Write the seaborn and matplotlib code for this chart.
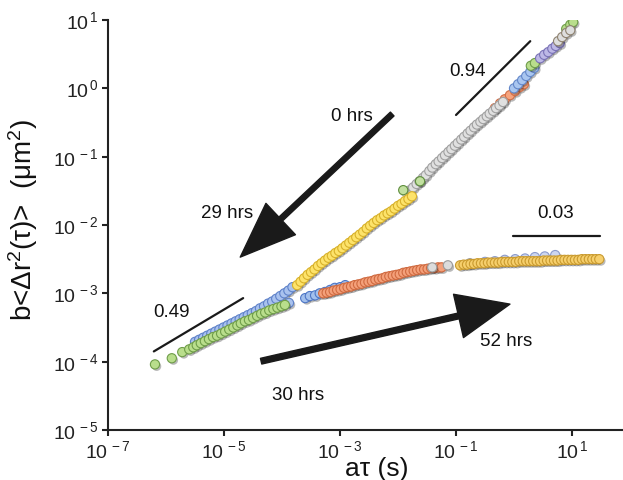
import numpy as np
import pandas as pd
import matplotlib
matplotlib.use("Agg")
import matplotlib.pyplot as plt
import matplotlib.patheffects as pe
from matplotlib.ticker import FixedLocator, NullLocator
import seaborn as sns

# ---------------- data (log10 of a*tau [s], log10 of b*MSD [um^2]) ----------------
# upper branch (0 -> 29 hrs)
green_low_x = [-6.19, -5.90, -5.72, -5.60, -5.53, -5.47, -5.40, -5.33, -5.26, -5.19,
               -5.12, -5.05, -4.98, -4.91, -4.84, -4.77, -4.71, -4.64, -4.57, -4.50,
               -4.43, -4.36, -4.29, -4.22, -4.15, -4.08, -4.01, -3.95]
green_low_y = [-4.04, -3.95, -3.86, -3.82, -3.79, -3.76, -3.73, -3.70, -3.67, -3.64,
               -3.62, -3.59, -3.56, -3.53, -3.50, -3.47, -3.44, -3.41, -3.39, -3.36,
               -3.33, -3.30, -3.28, -3.25, -3.23, -3.21, -3.19, -3.17]

blue_low_x = [-5.50, -5.43, -5.36, -5.29, -5.22, -5.15, -5.08, -5.01, -4.94, -4.87,
              -4.80, -4.73, -4.66, -4.59, -4.52, -4.45, -4.38, -4.31, -4.24, -4.17,
              -4.10, -4.03, -3.96, -3.89, -3.82, -3.88]
blue_low_y = [-3.71, -3.68, -3.65, -3.62, -3.59, -3.56, -3.53, -3.50, -3.47, -3.44,
              -3.41, -3.38, -3.35, -3.32, -3.29, -3.26, -3.22, -3.19, -3.15, -3.12,
              -3.08, -3.04, -3.00, -2.96, -2.91, -3.14]

yellow_x = [-3.74, -3.68, -3.62, -3.56, -3.50, -3.44, -3.38, -3.32, -3.26, -3.20,
            -3.14, -3.08, -3.02, -2.96, -2.90, -2.84, -2.78, -2.72, -2.66, -2.60,
            -2.54, -2.48, -2.42, -2.36, -2.30, -2.24, -2.18, -2.12, -2.06, -2.00,
            -1.94, -1.88, -1.82, -1.76]
yellow_y = [-2.88, -2.83, -2.78, -2.73, -2.69, -2.65, -2.60, -2.56, -2.52, -2.48,
            -2.45, -2.41, -2.38, -2.34, -2.30, -2.26, -2.22, -2.18, -2.14, -2.10,
            -2.05, -2.01, -1.97, -1.93, -1.90, -1.86, -1.83, -1.80, -1.76, -1.72,
            -1.69, -1.65, -1.62, -1.58]

green_mid_x = [-1.91, -1.62]
green_mid_y = [-1.49, -1.36]

gray_x = [-1.79, -1.74, -1.68, -1.63, -1.57, -1.52, -1.46, -1.41, -1.35, -1.30,
          -1.24, -1.19, -1.13, -1.08, -1.02, -0.97, -0.91, -0.86, -0.80, -0.75,
          -0.69, -0.64, -0.58, -0.53, -0.47, -0.42, -0.36, -0.31, -0.25, -0.19]
gray_y = [-1.49, -1.45, -1.40, -1.36, -1.31, -1.27, -1.21, -1.16, -1.11, -1.07,
          -1.02, -0.98, -0.93, -0.89, -0.84, -0.80, -0.75, -0.71, -0.66, -0.62,
          -0.57, -0.53, -0.49, -0.45, -0.41, -0.37, -0.33, -0.29, -0.25, -0.20]

orange_high_x = [-0.33, -0.24, -0.16, -0.07, 0.02, 0.10, 0.17]
orange_high_y = [-0.29, -0.22, -0.16, -0.10, -0.04, 0.02, 0.06]

blue_high_x = [0.00, 0.07, 0.14, 0.21, 0.28, 0.35]
blue_high_y = [0.00, 0.06, 0.12, 0.18, 0.24, 0.30]

purple_x = [0.45, 0.52, 0.59, 0.66, 0.72, 0.79]
purple_y = [0.44, 0.49, 0.53, 0.58, 0.62, 0.66]

graytop_x = [0.76, 0.83, 0.90, 0.97]
graytop_y = [0.69, 0.75, 0.81, 0.85]

green_high_x = [0.29, 0.36, 0.90, 0.97, 1.02]
green_high_y = [0.33, 0.37, 0.87, 0.93, 0.97]

# lower branch (30 -> 52 hrs)
blue_lo2_x = [-3.60, -3.52, -3.43, -3.35, -3.26, -3.17, -3.09, -3.00, -2.91]
blue_lo2_y = [-3.07, -3.04, -3.03, -3.00, -2.98, -2.95, -2.92, -2.91, -2.88]

orange_lo_x = [-3.29, -3.23, -3.17, -3.11, -3.05, -2.99, -2.93, -2.87, -2.81, -2.75,
               -2.69, -2.63, -2.57, -2.51, -2.45, -2.39, -2.33, -2.27, -2.21, -2.15,
               -2.09, -2.03, -1.97, -1.91, -1.85, -1.79, -1.73, -1.67, -1.61, -1.55,
               -1.49, -1.43, -1.37, -1.31, -1.25]
orange_lo_y = [-3.00, -2.99, -2.98, -2.96, -2.95, -2.94, -2.92, -2.91, -2.90, -2.88,
               -2.87, -2.86, -2.84, -2.83, -2.82, -2.80, -2.79, -2.78, -2.76, -2.75,
               -2.74, -2.73, -2.72, -2.70, -2.69, -2.68, -2.67, -2.66, -2.65, -2.65,
               -2.64, -2.63, -2.63, -2.62, -2.62]

gray_lo_x = [-1.41, -1.14, -0.76]
gray_lo_y = [-2.62, -2.59, -2.56]

lblue_lo_x = [-0.50, -0.33, -0.16, 0.02, 0.19, 0.36, 0.53, 0.71]
lblue_lo_y = [-2.54, -2.53, -2.51, -2.50, -2.49, -2.47, -2.46, -2.44]

gold_x = [-0.93, -0.87, -0.81, -0.75, -0.69, -0.63, -0.57, -0.51, -0.45, -0.39,
          -0.33, -0.27, -0.21, -0.15, -0.09, -0.03, 0.03, 0.09, 0.15, 0.21,
          0.27, 0.33, 0.39, 0.45, 0.51, 0.57, 0.63, 0.69, 0.75, 0.81,
          0.87, 0.93, 0.99, 1.05, 1.11, 1.17, 1.23, 1.29, 1.35, 1.41, 1.47]
gold_y = [-2.59, -2.58, -2.58, -2.57, -2.57, -2.56, -2.56, -2.56, -2.55, -2.55,
          -2.55, -2.55, -2.54, -2.54, -2.54, -2.54, -2.54, -2.53, -2.53, -2.53,
          -2.53, -2.53, -2.53, -2.53, -2.52, -2.52, -2.52, -2.52, -2.52, -2.51,
          -2.51, -2.51, -2.51, -2.51, -2.51, -2.50, -2.50, -2.50, -2.50, -2.50, -2.50]

# slope guide lines (log10 endpoints) and labels
slope_labels = ["0.49", "0.94", "0.03"]
slope_x = [(-6.21, -4.67), (-1.00, 0.28), (-0.02, 1.48)]
slope_y = [(-3.85, -3.07), (-0.39, 0.69), (-2.16, -2.16)]
slope_text_pos = [(-5.90, -3.28), (-0.81, 0.24), (0.71, -1.83)]

# ---------------- style ----------------
sns.set_theme(style="ticks")
plt.rcParams["font.family"] = ["Liberation Sans", "DejaVu Sans"]
plt.rcParams["mathtext.fontset"] = "custom"
plt.rcParams["mathtext.rm"] = "Liberation Sans"
plt.rcParams["mathtext.it"] = "Liberation Sans:italic"
plt.rcParams["mathtext.bf"] = "Liberation Sans:bold"

fig = plt.figure(figsize=(6.23, 4.80), dpi=100)
fig.patch.set_facecolor("white")
ax = fig.add_axes([108 / 623, 50 / 480, 515 / 623, 410 / 480])
ax.set_facecolor("white")

series = [
    ("blue_low", blue_low_x, blue_low_y, "#a9c2ee", "#5f82c9"),
    ("green_low", green_low_x, green_low_y, "#b9de8c", "#6f9d49"),
    ("orange_high", orange_high_x, orange_high_y, "#f6a47e", "#d26d45"),
    ("blue_high", blue_high_x, blue_high_y, "#a9c6f0", "#6387c9"),
    ("green_high", green_high_x, green_high_y, "#b9de8c", "#6f9d49"),
    ("purple", purple_x, purple_y, "#bdb8e6", "#7a72b6"),
    ("graytop", graytop_x, graytop_y, "#dedede", "#8e8270"),
    ("gray", gray_x, gray_y, "#e0e0e0", "#a0a0a0"),
    ("green_mid", green_mid_x, green_mid_y, "#c2e0a0", "#5f8e3e"),
    ("yellow", yellow_x, yellow_y, "#fde36b", "#d8b12a"),
    ("blue_lo2", blue_lo2_x, blue_lo2_y, "#a3c0ec", "#4d76c6"),
    ("orange_lo", orange_lo_x, orange_lo_y, "#f4a07a", "#cf6a40"),
    ("gray_lo", gray_lo_x, gray_lo_y, "#dcdcdc", "#9a9a9a"),
    ("lblue_lo", lblue_lo_x, lblue_lo_y, "#cdd6f0", "#8c9bcc"),
    ("gold", gold_x, gold_y, "#f6cf6c", "#c99a2e"),
]

shadow = [pe.SimplePatchShadow(offset=(1.2, -1.4), shadow_rgbFace="k", alpha=0.3), pe.Normal()]

for name, xs, ys, face, edge in series:
    df = pd.DataFrame({"tau": np.power(10.0, xs), "msd": np.power(10.0, ys)})
    sns.scatterplot(data=df, x="tau", y="msd", ax=ax, s=44, color=face,
                    edgecolor=edge, linewidth=0.8, legend=False, zorder=3)
    ax.collections[-1].set_path_effects(shadow)

ax.set_xscale("log")
ax.set_yscale("log")
ax.set_xlim(1e-7, 10 ** 1.879)
ax.set_ylim(1e-5, 10 ** 1)

# slope guide lines
for lab, (x0, x1), (y0, y1), (tx, ty) in zip(slope_labels, slope_x, slope_y, slope_text_pos):
    ax.plot([10 ** x0, 10 ** x1], [10 ** y0, 10 ** y1], color="k", lw=1.6, zorder=4)
    ax.text(10 ** tx, 10 ** ty, lab, fontsize=13.5, ha="center", va="center", color="#111111")

# arrows
ax.annotate("", xy=(10 ** -4.72, 10 ** -2.47), xytext=(10 ** -2.10, 10 ** -0.376),
            arrowprops=dict(facecolor="k", edgecolor="k", width=3.8, headwidth=31,
                            headlength=40, shrink=0), zorder=5)
ax.annotate("", xy=(10 ** -0.07, 10 ** -3.158), xytext=(10 ** -4.36, 10 ** -3.993),
            arrowprops=dict(facecolor="k", edgecolor="k", width=4.2, headwidth=32,
                            headlength=38, shrink=0), zorder=5)

hour_labels = ["0 hrs", "29 hrs", "30 hrs", "52 hrs"]
hour_pos = [(-2.79, -0.405), (-4.95, -1.826), (-3.72, -4.49), (-0.14, -3.71)]
for lab, (tx, ty) in zip(hour_labels, hour_pos):
    ax.text(10 ** tx, 10 ** ty, lab, fontsize=13.5, ha="center", va="center", color="#111111")

# axes styling
sns.despine(ax=ax)
for sp in ["left", "bottom"]:
    ax.spines[sp].set_linewidth(1.5)
    ax.spines[sp].set_color("#222222")
ax.xaxis.set_major_locator(FixedLocator([1e-7, 1e-5, 1e-3, 1e-1, 1e1]))
ax.yaxis.set_major_locator(FixedLocator([1e-5, 1e-4, 1e-3, 1e-2, 1e-1, 1e0, 1e1]))
ax.xaxis.set_minor_locator(NullLocator())
ax.yaxis.set_minor_locator(NullLocator())
xt_labels = [r"10$^{\,-7}$", r"10$^{\,-5}$", r"10$^{\,-3}$", r"10$^{\,-1}$", r"10$^{\,1}$"]
yt_labels = [r"10$^{\,-5}$", r"10$^{\,-4}$", r"10$^{\,-3}$", r"10$^{\,-2}$", r"10$^{\,-1}$",
             r"10$^{\,0}$", r"10$^{\,1}$"]
ax.set_xticklabels(xt_labels)
ax.set_yticklabels(yt_labels)
ax.tick_params(axis="both", which="major", direction="out", length=4, width=1.5,
               labelsize=14, colors="#222222", pad=3)

ax.set_xlabel("aτ (s)", fontsize=19, color="#111111")
ax.set_ylabel("b<Δr$^2$(τ)>  (μm$^2$)", fontsize=20, color="#111111")
ax.xaxis.set_label_coords(0.522, -0.066)
ax.yaxis.set_label_coords(-0.132, 0.512)

fig.savefig("out.png", dpi=100, facecolor="white")
